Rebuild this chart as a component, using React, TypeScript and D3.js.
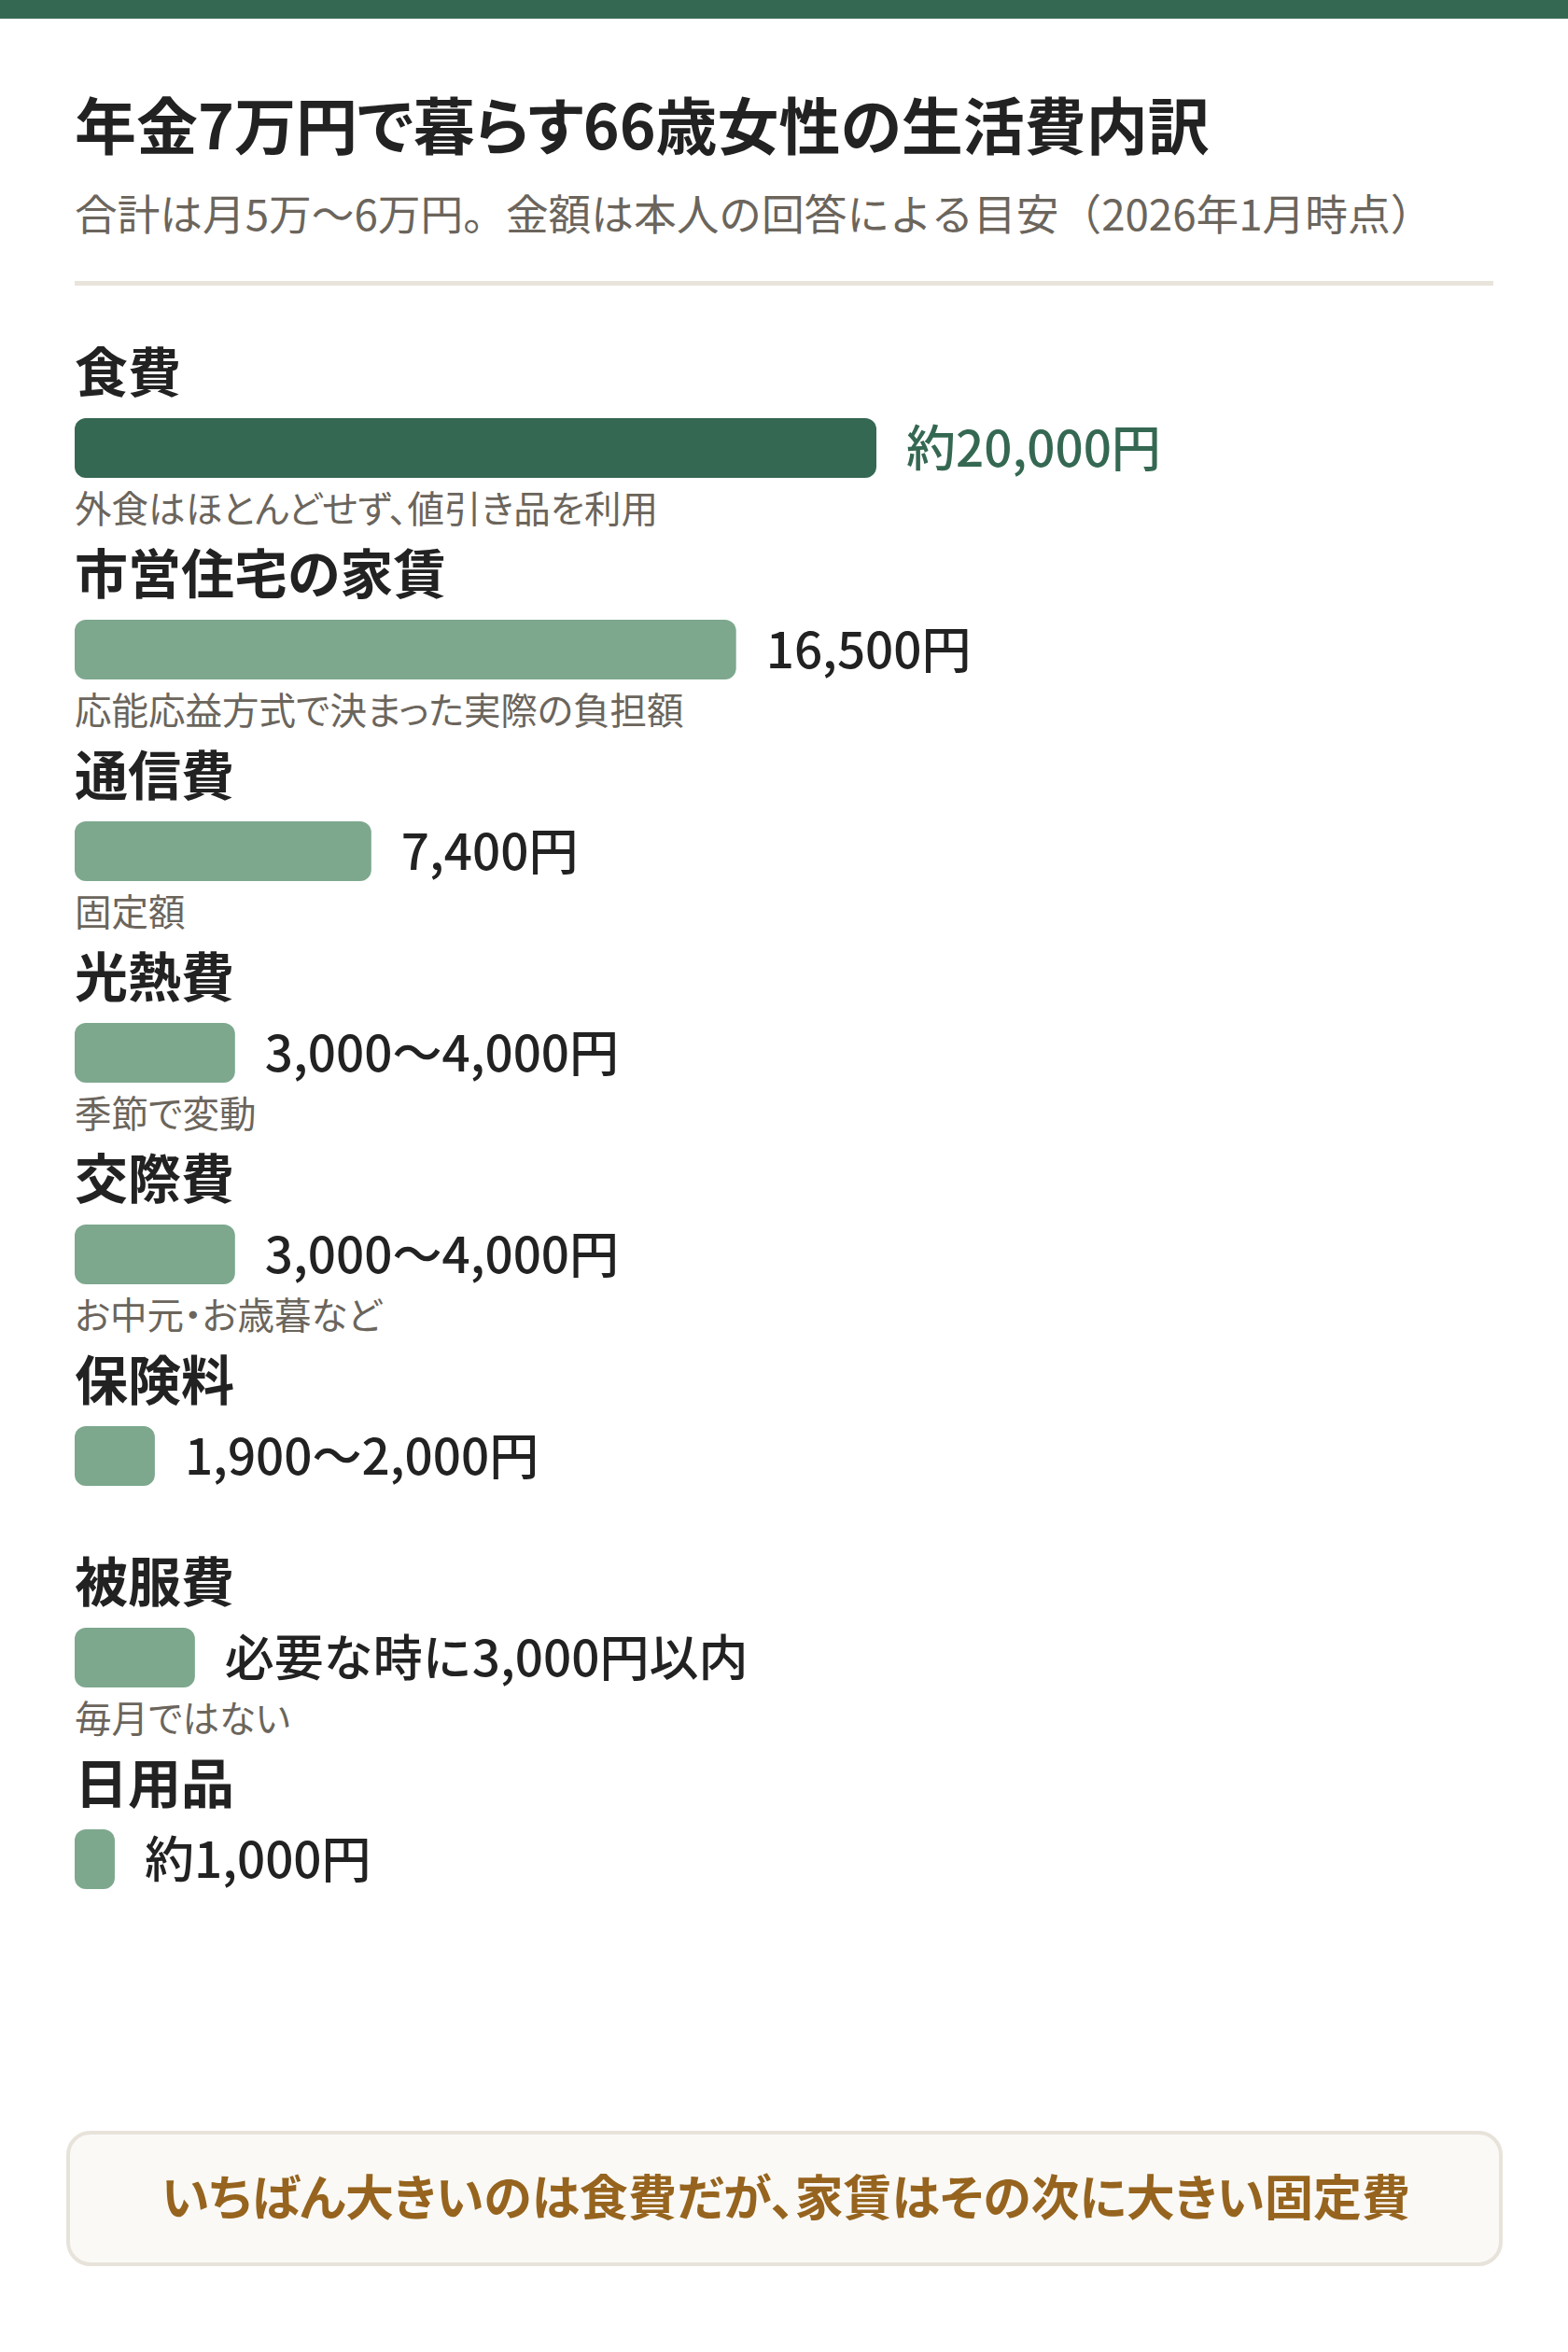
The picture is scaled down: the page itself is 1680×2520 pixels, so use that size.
import React from "react";
import * as d3 from "d3";

const categories = ["食費", "市営住宅の家賃", "通信費", "光熱費", "交際費", "保険料", "被服費", "日用品"];
const amounts = [20000, 16500, 7400, 4000, 4000, 2000, 3000, 1000];
const valueLabels = ["約20,000円", "16,500円", "7,400円", "3,000〜4,000円", "3,000〜4,000円", "1,900〜2,000円", "必要な時に3,000円以内", "約1,000円"];
const notes = ["外食はほとんどせず、値引き品を利用", "応能応益方式で決まった実際の負担額", "固定額", "季節で変動", "お中元・お歳暮など", "", "毎月ではない", ""];
const highlight = ["食費"];

const title = "年金7万円で暮らす66歳女性の生活費内訳";
const subtitle = "合計は月5万〜6万円。金額は本人の回答による目安（2026年1月時点）";
const callout = "いちばん大きいのは食費だが、家賃はその次に大きい固定費";

const W = 1680;
const H = 2520;
const FONT = "'Noto Sans CJK JP', 'Noto Sans', sans-serif";
const DARK = "#356852";
const LIGHT = "#7da88e";
const PALT = { fontFeatureSettings: "'palt' 1" } as React.CSSProperties;

export default function App() {
  const x = d3.scaleLinear().domain([0, 20000]).range([0, 859]);
  const y = d3
    .scaleBand<string>()
    .domain(categories)
    .range([448, 448 + 216 * categories.length])
    .paddingInner(0)
    .paddingOuter(0);
  const left = 80;
  const barH = 64;

  return (
    <svg
      width={W}
      height={H}
      viewBox={`0 0 ${W} ${H}`}
      style={{ position: "absolute", left: 0, top: 0, display: "block", background: "#fff" }}
      fontFamily={FONT}
    >
      <rect x={0} y={0} width={W} height={H} fill="#ffffff" />
      <rect x={0} y={0} width={W} height={20} fill={DARK} />
      <text x={80} y={160} fontSize={66} fontWeight={700} fill="#222" style={PALT}>
        {title}
      </text>
      <text x={80} y={247} fontSize={45.7} fill="#6b655c">
        {subtitle}
      </text>
      <rect x={80} y={301} width={1520} height={5} fill="#e8e4dc" />

      {categories.map((c, i) => {
        const top = y(c) as number;
        const w = x(amounts[i]);
        const isHi = highlight.includes(c);
        return (
          <g key={c}>
            <text x={left} y={top - 28} fontSize={57} fontWeight={700} fill="#222" style={PALT}>
              {c}
            </text>
            <rect x={left} y={top} width={w} height={barH} rx={12} ry={12} fill={isHi ? DARK : LIGHT} />
            <text
              x={left + w + 32}
              y={top + barH / 2 + 20}
              fontSize={53}
              fontWeight={500}
              fill={isHi ? DARK : "#222"}
            >
              {valueLabels[i]}
            </text>
            {notes[i] && (
              <text x={left} y={top + 112} fontSize={39.5} fill="#6b655c" style={PALT}>
                {notes[i]}
              </text>
            )}
          </g>
        );
      })}

      <rect x={73} y={2285} width={1535} height={141} rx={24} ry={24} fill="#faf9f6" stroke="#e8e3da" strokeWidth={4} />
      <text x={842} y={2374} fontSize={52} fontWeight={700} fill="#96641e" textAnchor="middle" style={PALT}>
        {callout}
      </text>
    </svg>
  );
}
